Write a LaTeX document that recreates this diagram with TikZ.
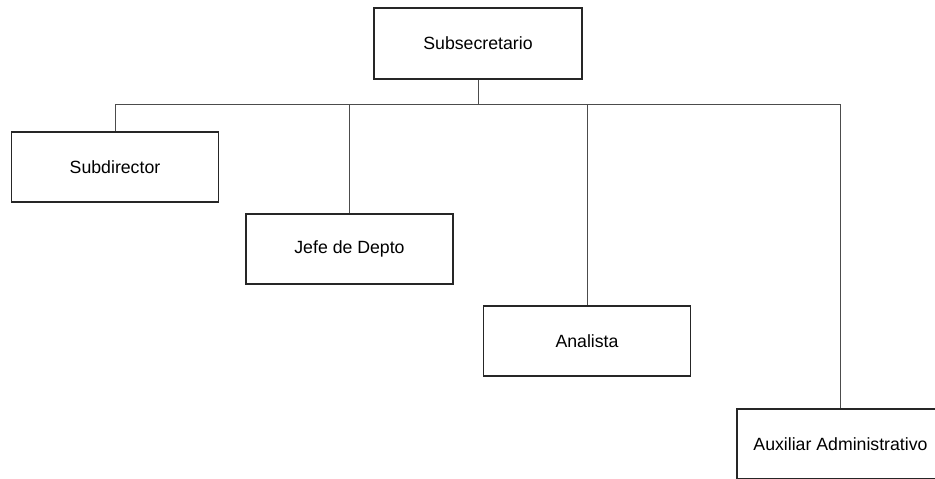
\documentclass[tikz,border=0pt]{standalone}
\usepackage{fontspec}
\setmainfont{Liberation Sans}
\usetikzlibrary{positioning,trees}
\tikzstyle{every node}=[draw=black!85,line width=1.8pt,minimum width=207pt,minimum height=70pt,inner sep=0pt,font=\fontsize{17.7}{21}\selectfont]

\begin{document}
\begin{tikzpicture}[
    edge from parent/.style={
        draw=black!70,
        line width=1pt
        },
    edge from parent path={(\tikzparentnode.south) -- ++(0pt,-25pt) -| (\tikzchildnode.north)},
    level 1/.style={sibling distance=242pt},
  ]
  \useasboundingbox (0pt,0pt) rectangle (935pt,-479pt);
  % Jefe
  \node (subsecretario) at (478pt,-43.5pt) [minimum width=208pt,minimum height=71pt] {Subsecretario}
  % Cargos
  child[level distance=123.5pt]{ node (subdirector) {Subdirector}}
  child[level distance=205.5pt,xshift=-7.5pt]{ node (jefe) {Jefe de Depto}}
  child[level distance=297.5pt,xshift=-12pt]{ node (analista) {Analista}}
  child[level distance=400.5pt,xshift=-0.5pt]{ node (auxiliar) {Auxiliar Administrativo}};
\end{tikzpicture}
\end{document}
